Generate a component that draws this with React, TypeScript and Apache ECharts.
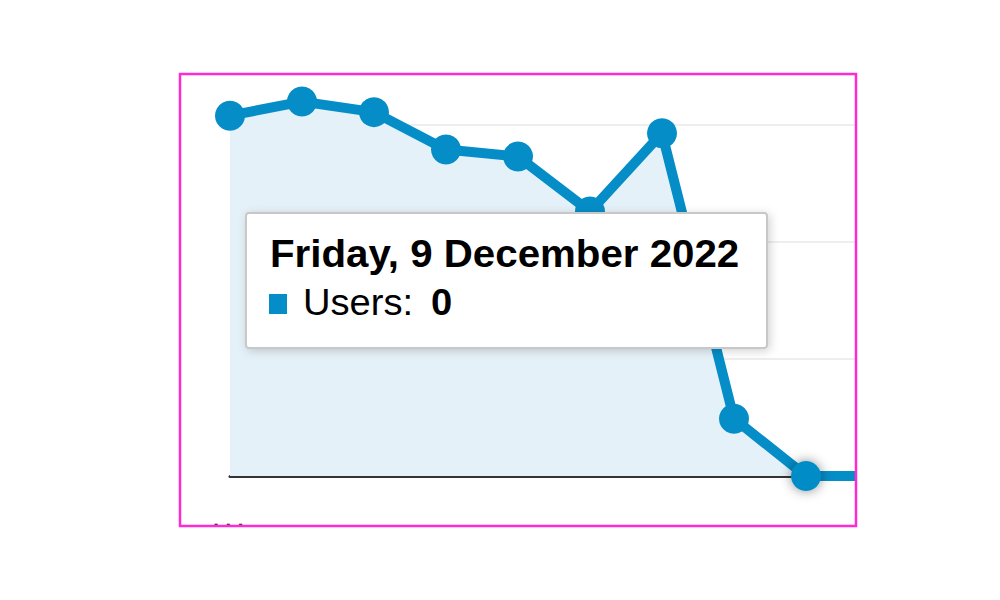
import React, { useEffect, useRef } from "react";
import * as echarts from "echarts";

const categories = ["1 Dec", "2 Dec", "3 Dec", "4 Dec", "5 Dec", "6 Dec", "7 Dec", "8 Dec", "9 Dec", "10 Dec"];
const users = [308, 320, 311, 279, 273, 226, 293, 49, 0, 0];
const yTicks = [0, 100, 200, 300];
const tooltipTitle = "Friday, 9 December 2022";
const tooltipLabel = "Users:";
const tooltipValue = "0";
const highlightIndex = 8;

const BLUE = "#058DC7";

export default function App() {
  const ref = useRef<HTMLDivElement>(null);
  useEffect(() => {
    if (!ref.current) return;
    const chart = echarts.init(ref.current, undefined, { renderer: "svg" });
    const data = users.map((v, i) =>
      i === highlightIndex
        ? { value: v, itemStyle: { shadowBlur: 12, shadowColor: "rgba(0,0,0,0.45)" } }
        : v
    );
    const fontFamily = "'Liberation Sans', Arial, sans-serif";
    chart.setOption({
      animation: false,
      backgroundColor: "#ffffff",
      grid: { left: 230, right: 122, top: 125, bottom: 124 },
      xAxis: {
        type: "category",
        data: categories,
        boundaryGap: false,
        axisLine: { show: true, lineStyle: { color: "#333333", width: 3 } },
        axisTick: { show: false },
        axisLabel: { show: false },
        splitLine: { show: false },
      },
      yAxis: {
        type: "value",
        min: yTicks[0],
        max: yTicks[yTicks.length - 1],
        interval: yTicks[1] - yTicks[0],
        axisLine: { show: false },
        axisTick: { show: false },
        axisLabel: { show: false },
        splitLine: { show: true, lineStyle: { color: "#eeeeee", width: 2 } },
      },
      series: [
        {
          type: "line",
          data,
          clip: false,
          symbol: "circle",
          symbolSize: 30,
          showAllSymbol: true,
          lineStyle: { color: BLUE, width: 10 },
          itemStyle: { color: BLUE },
          areaStyle: { color: "#E5F1F8", opacity: 1 },
          z: 3,
        },
      ],
      graphic: [
        { type: "rect", z: 200, shape: { x: 0, y: 0, width: 1000, height: 73 }, style: { fill: "#ffffff" } },
        { type: "rect", z: 200, shape: { x: 0, y: 527, width: 1000, height: 73 }, style: { fill: "#ffffff" } },
        { type: "rect", z: 200, shape: { x: 0, y: 0, width: 179, height: 600 }, style: { fill: "#ffffff" } },
        { type: "rect", z: 200, shape: { x: 857, y: 0, width: 143, height: 600 }, style: { fill: "#ffffff" } },
        {
          type: "rect",
          z: 210,
          shape: { x: 180, y: 74, width: 676, height: 452 },
          style: { fill: "none", stroke: "#ff2bd0", lineWidth: 2.5 },
        },
        {
          type: "text",
          z: 150,
          x: 213,
          y: 530,
          style: { text: ". . .", fill: "#333", font: "bold 22px " + fontFamily, verticalAlign: "bottom" },
        },
        {
          type: "rect",
          z: 160,
          shape: { x: 246, y: 213, width: 521, height: 135, r: 3 },
          style: {
            fill: "#ffffff",
            stroke: "#c8c8c8",
            lineWidth: 2,
            shadowBlur: 10,
            shadowColor: "rgba(0,0,0,0.18)",
            shadowOffsetX: 2,
            shadowOffsetY: 2,
          },
        },
        {
          type: "text",
          z: 170,
          x: 270,
          y: 254,
          scaleX: 1.06,
          style: {
            text: tooltipTitle,
            fill: "#000",
            font: "bold 38px " + fontFamily,
            verticalAlign: "middle",
          },
        },
        {
          type: "rect",
          z: 170,
          shape: { x: 269, y: 294, width: 18, height: 20 },
          style: { fill: BLUE },
        },
        {
          type: "text",
          z: 170,
          x: 303,
          y: 302,
          scaleX: 1.06,
          style: {
            text: tooltipLabel,
            fill: "#000",
            font: "36px " + fontFamily,
            verticalAlign: "middle",
          },
        },
        {
          type: "text",
          z: 170,
          x: 431,
          y: 302,
          scaleX: 1.06,
          style: {
            text: tooltipValue,
            fill: "#000",
            font: "bold 36px " + fontFamily,
            verticalAlign: "middle",
          },
        },
      ],
    });
    return () => chart.dispose();
  }, []);
  return (
    <div
      ref={ref}
      style={{ position: "fixed", left: 0, top: 0, width: 1000, height: 600 }}
    />
  );
}
